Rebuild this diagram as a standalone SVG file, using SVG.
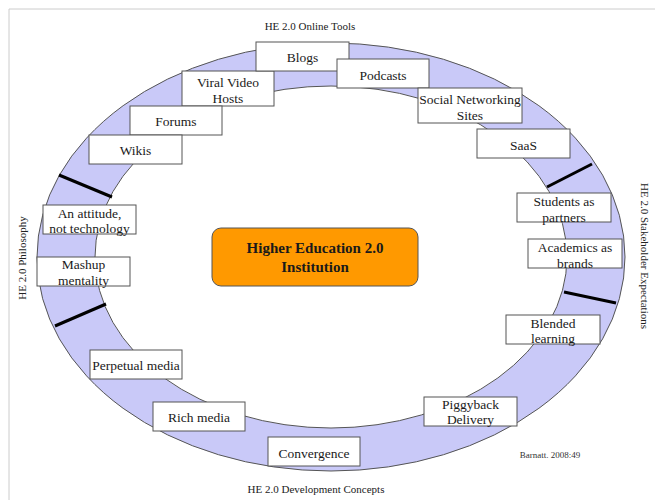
<svg xmlns="http://www.w3.org/2000/svg" width="655" height="500" viewBox="0 0 655 500">
<style>
  .box { fill: #ffffff; stroke: #555555; stroke-width: 1; }
  .lbl { font-family: "Liberation Serif", "Times New Roman", serif; font-size: 13.5px; fill: #1a1a1a; text-anchor: middle; }
  .ttl { font-family: "Liberation Serif", "Times New Roman", serif; font-size: 11px; fill: #222222; text-anchor: middle; }
  .div { stroke: #000000; stroke-width: 3; stroke-linecap: butt; }
</style>
<rect x="0" y="0" width="655" height="500" fill="#ffffff"/>
<path d="M9 500 V9 H655" fill="none" stroke="#cccccc" stroke-width="1"/>

<g id="ring">
  <ellipse cx="331" cy="257" rx="294" ry="214" fill="#c9c9f8" stroke="#555555" stroke-width="1"/>
  <ellipse cx="331" cy="257" rx="236" ry="171" fill="#ffffff" stroke="#555555" stroke-width="1"/>
</g>

<g id="connectors">
  <line class="div" x1="59" y1="175" x2="112" y2="197"/>
  <line class="div" x1="55" y1="326" x2="106" y2="304"/>
  <line class="div" x1="547" y1="187" x2="592" y2="164"/>
  <line class="div" x1="564" y1="292" x2="616" y2="303"/>
</g>

<text class="ttl" x="310" y="30">HE 2.0 Online Tools</text>
<text class="ttl" x="316" y="493">HE 2.0 Development Concepts</text>
<text class="ttl" transform="translate(26,258) rotate(-90)" x="0" y="0">HE 2.0 Philosophy</text>
<text class="ttl" transform="translate(641,256) rotate(90)" x="0" y="0">HE 2.0 Stakeholder Expectations</text>
<text x="550" y="458" font-family="Liberation Serif, serif" font-size="9" fill="#333333" text-anchor="middle">Barnatt. 2008:49</text>

<g id="center">
  <rect x="212" y="228" width="206" height="58" rx="9" ry="9" fill="#ff9900" stroke="#555555" stroke-width="1"/>
  <text x="315" y="253" font-family="Liberation Serif, serif" font-size="15" font-weight="bold" fill="#1a1a1a" text-anchor="middle">Higher Education 2.0</text>
  <text x="315" y="272" font-family="Liberation Serif, serif" font-size="15" font-weight="bold" fill="#1a1a1a" text-anchor="middle">Institution</text>
</g>

<g id="viral">
  <rect class="box" x="182" y="71" width="92" height="35"/>
  <text class="lbl" x="228" y="86.5">Viral Video</text>
  <text class="lbl" x="228" y="102.5">Hosts</text>
</g>
<g id="forums">
  <rect class="box" x="130" y="106" width="92" height="29"/>
  <text class="lbl" x="176" y="126">Forums</text>
</g>
<g id="wikis">
  <rect class="box" x="89" y="135" width="93" height="29"/>
  <text class="lbl" x="135.5" y="154.5">Wikis</text>
</g>
<g id="blogs">
  <rect class="box" x="256" y="42" width="93" height="29"/>
  <text class="lbl" x="302.5" y="61.5">Blogs</text>
</g>
<g id="podcasts">
  <rect class="box" x="337" y="59" width="92" height="29"/>
  <text class="lbl" x="383" y="79.5">Podcasts</text>
</g>
<g id="sns">
  <rect class="box" x="418" y="88" width="104" height="35"/>
  <text class="lbl" x="470" y="103.5">Social Networking</text>
  <text class="lbl" x="470" y="119.5">Sites</text>
</g>
<g id="saas">
  <rect class="box" x="477" y="129" width="93" height="29"/>
  <text class="lbl" x="523.5" y="149.5">SaaS</text>
</g>
<g id="students">
  <rect class="box" x="517" y="193" width="94" height="29"/>
  <text class="lbl" x="564" y="205.5">Students as</text>
  <text class="lbl" x="564" y="222">partners</text>
</g>
<g id="academics">
  <rect class="box" x="528" y="239" width="94" height="29"/>
  <text class="lbl" x="575" y="251.5">Academics as</text>
  <text class="lbl" x="575" y="267.5">brands</text>
</g>
<g id="blended">
  <rect class="box" x="506" y="315" width="94" height="29"/>
  <text class="lbl" x="553" y="327.5">Blended</text>
  <text class="lbl" x="553" y="342.5">learning</text>
</g>
<g id="attitude">
  <rect class="box" x="43" y="205" width="93" height="29"/>
  <text class="lbl" x="89.5" y="217.5">An attitude,</text>
  <text class="lbl" x="89.5" y="232.5">not technology</text>
</g>
<g id="mashup">
  <rect class="box" x="37" y="257" width="93" height="29"/>
  <text class="lbl" x="83.5" y="268.5">Mashup</text>
  <text class="lbl" x="83.5" y="284.5">mentality</text>
</g>
<g id="perpetual">
  <rect class="box" x="90" y="350" width="92" height="29"/>
  <text class="lbl" x="136" y="369.5">Perpetual media</text>
</g>
<g id="richmedia">
  <rect class="box" x="153" y="402" width="92" height="29"/>
  <text class="lbl" x="199" y="421.5">Rich media</text>
</g>
<g id="convergence">
  <rect class="box" x="268" y="437" width="92" height="29"/>
  <text class="lbl" x="314" y="457.5">Convergence</text>
</g>
<g id="piggyback">
  <rect class="box" x="424" y="397" width="93" height="29"/>
  <text class="lbl" x="470.5" y="408.5">Piggyback</text>
  <text class="lbl" x="470.5" y="423.5">Delivery</text>
</g>
</svg>
